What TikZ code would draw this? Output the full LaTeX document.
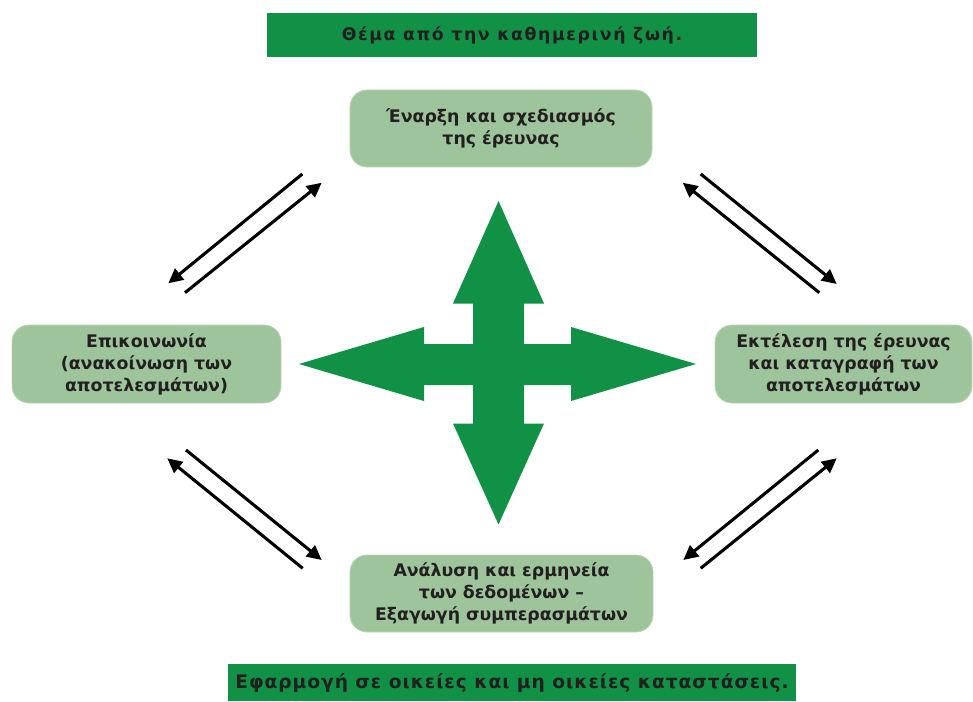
\documentclass[tikz,border=0pt]{standalone}
\usepackage{fontspec}
\setmainfont{DejaVu Sans}
\usetikzlibrary{arrows.meta}

\definecolor{bannergreen}{RGB}{16,145,70}
\definecolor{boxgreen}{RGB}{158,196,155}
\definecolor{boxline}{RGB}{190,212,184}
\definecolor{inkgrey}{RGB}{35,31,32}

\tikzset{
  banner/.style={fill=bannergreen, text=inkgrey, inner sep=0pt,
    font=\bfseries\fontsize{13}{15}\selectfont\addfontfeature{LetterSpace=9}},
  stage/.style={fill=boxgreen, draw=boxline, line width=0.6pt,
    rounded corners=12.75pt, align=center, text=inkgrey, inner sep=0pt,
    font=\bfseries\fontsize{13}{16.5}\selectfont},
  flow/.style={black, line width=2.3pt, -{Triangle[length=11pt,width=10.5pt]}}
}

\begin{document}
\begin{tikzpicture}[x=0.75pt,y=-0.75pt]
  \useasboundingbox (0,0) rectangle (973,702);

  % banners
  \node[banner, minimum width=367.5pt, minimum height=33pt] (topic) at (512,35)
    {Θέμα από την καθημερινή ζωή.};
  \node[banner, minimum width=426pt, minimum height=27.75pt,
    font=\bfseries\fontsize{14}{16}\selectfont\addfontfeature{LetterSpace=5}] (apply) at (512,682.5)
    {Εφαρμογή σε οικείες και μη οικείες καταστάσεις.};

  % the four stages
  \node[stage, minimum width=226.5pt, minimum height=57.75pt] (start) at (501,128.5)
    {Έναρξη και σχεδιασμός\\της έρευνας};
  \node[stage, minimum width=192.75pt, minimum height=58.5pt] (exec) at (843.5,364)
    {Εκτέλεση της έρευνας\\και καταγραφή των\\αποτελεσμάτων};
  \node[stage, minimum width=227.25pt, minimum height=57.75pt] (analysis) at (501.5,593.5)
    {Ανάλυση και ερμηνεία\\των δεδομένων –\\Εξαγωγή συμπερασμάτων};
  \node[stage, minimum width=201.75pt, minimum height=58.5pt] (comm) at (146.5,364)
    {Επικοινωνία\\(ανακοίνωση των\\αποτελεσμάτων)};

  % green cross in the middle
  \path[fill=bannergreen]
    (498.5,201) -- (544,303.5) -- (524,303.5) -- (524,344) --
    (571,344) -- (571,327) -- (696,364) -- (571,401) -- (571,385) --
    (524,385) -- (524,423.5) -- (544,423.5) -- (498.5,524.5) --
    (453,423.5) -- (473,423.5) -- (473,385) -- (424,385) --
    (424,401) -- (299,364) -- (424,327) -- (424,344) --
    (473,344) -- (473,303.5) -- (453,303.5) -- cycle;

  % arrow ends
  \coordinate (ul1s) at (302.3,174);   \coordinate (ul1e) at (168.3,283.3);
  \coordinate (ul2s) at (185,292.7);   \coordinate (ul2e) at (321.7,182.7);
  \coordinate (ur1s) at (700.7,174);   \coordinate (ur1e) at (836.7,284);
  \coordinate (ur2s) at (819.3,292.7); \coordinate (ur2e) at (682.7,182.7);
  \coordinate (ll1s) at (186,450);     \coordinate (ll1e) at (321.7,560);
  \coordinate (ll2s) at (302.7,568.3); \coordinate (ll2e) at (167.3,458.3);
  \coordinate (lr1s) at (818.3,450);   \coordinate (lr1e) at (683.3,560);
  \coordinate (lr2s) at (700.7,568.3); \coordinate (lr2e) at (836.7,458.3);

  \draw[flow] (ul1s) -- (ul1e);
  \draw[flow] (ul2s) -- (ul2e);
  \draw[flow] (ur1s) -- (ur1e);
  \draw[flow] (ur2s) -- (ur2e);
  \draw[flow] (ll1s) -- (ll1e);
  \draw[flow] (ll2s) -- (ll2e);
  \draw[flow] (lr1s) -- (lr1e);
  \draw[flow] (lr2s) -- (lr2e);
\end{tikzpicture}
\end{document}
